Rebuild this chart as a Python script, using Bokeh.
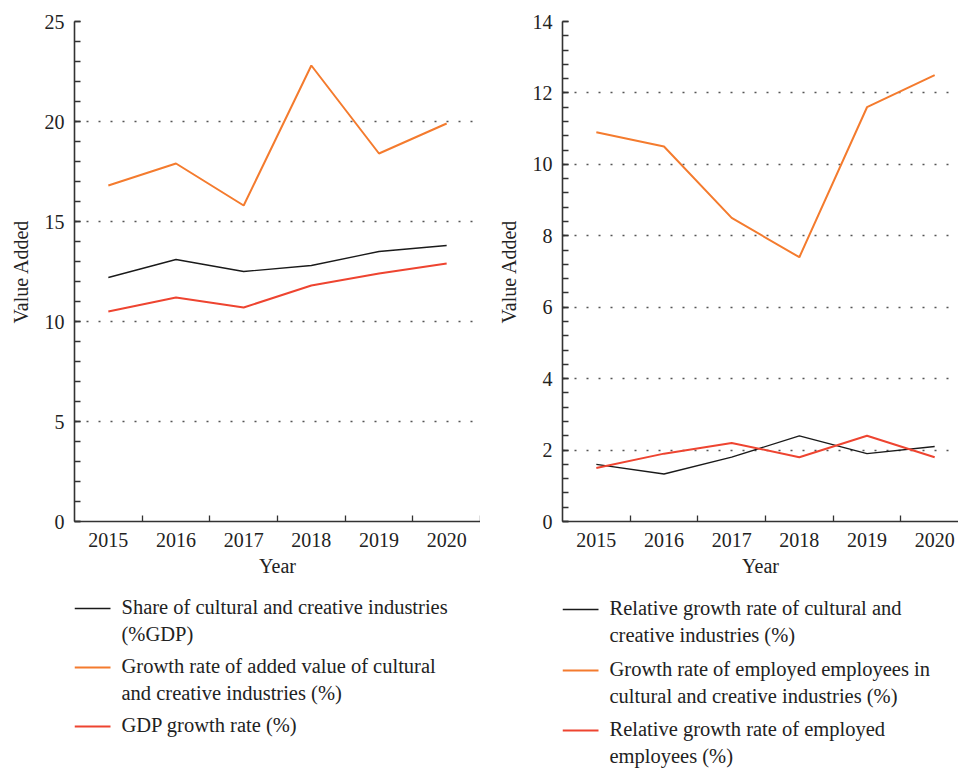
from bokeh.plotting import figure
from bokeh.layouts import row, column
from bokeh.models import Range1d, FixedTicker, SingleIntervalTicker
from bokeh.core.properties import value
from bokeh.embed import file_html
from bokeh.resources import INLINE

# ---------------- data ----------------
years = [2015, 2016, 2017, 2018, 2019, 2020]

left_share = [12.2, 13.1, 12.5, 12.8, 13.5, 13.8]
left_added_growth = [16.8, 17.9, 15.8, 22.8, 18.4, 19.9]
left_gdp_growth = [10.5, 11.2, 10.7, 11.8, 12.4, 12.9]

right_rel_growth = [1.6, 1.33, 1.8, 2.4, 1.9, 2.1]
right_emp_growth = [10.9, 10.5, 8.5, 7.4, 11.6, 12.5]
right_rel_emp_growth = [1.5, 1.9, 2.2, 1.8, 2.4, 1.8]

left_labels = [
    "Share of cultural and creative industries\n(%GDP)",
    "Growth rate of added value of cultural\nand creative industries (%)",
    "GDP growth rate (%)",
]
right_labels = [
    "Relative growth rate of cultural and\ncreative industries (%)",
    "Growth rate of employed employees in\ncultural and creative industries (%)",
    "Relative growth rate of employed\nemployees (%)",
]

BLACK = "#1a1a1a"
ORANGE = "#F47B2E"
RED = "#EE4430"
FONT = "Liberation Serif"
TXT = "#222222"
AX = "#333333"

PANEL_H = 591
LEG_H = 178


def make_panel(ymax, ymajor, xend, width, border_left, series):
    p = figure(width=width, height=PANEL_H, output_backend="svg", toolbar_location=None,
               x_range=Range1d(2014.5, xend), y_range=Range1d(0, ymax),
               min_border_left=border_left, min_border_right=0,
               min_border_top=21, min_border_bottom=70)
    p.outline_line_color = None
    p.background_fill_color = None
    p.border_fill_color = None
    p.xgrid.grid_line_color = None
    p.ygrid.grid_line_color = "#555555"
    p.ygrid.grid_line_dash = "2 10"
    p.ygrid.grid_line_width = 1.3
    p.ygrid.grid_line_dash_offset = -12

    xa = p.xaxis[0]
    xa.ticker = FixedTicker(ticks=years, minor_ticks=[y + 0.5 for y in years])
    xa.major_tick_in = 0
    xa.major_tick_out = 0
    xa.minor_tick_in = 6
    xa.minor_tick_out = 0
    xa.axis_label = "Year"
    xa.major_label_standoff = 11
    xa.axis_label_standoff = 5

    ya = p.yaxis[0]
    ya.ticker = SingleIntervalTicker(interval=ymajor, num_minor_ticks=5)
    ya.major_tick_in = 6
    ya.major_tick_out = 0
    ya.minor_tick_in = 6
    ya.minor_tick_out = 0
    ya.axis_label = "Value Added"
    ya.major_label_standoff = 10
    ya.axis_label_standoff = 10

    for ax in (xa, ya):
        ax.axis_line_color = AX
        ax.axis_line_width = 1.6
        ax.major_tick_line_color = AX
        ax.major_tick_line_width = 1.3
        ax.minor_tick_line_color = AX
        ax.minor_tick_line_width = 1.3
        ax.major_label_text_font = FONT
        ax.major_label_text_font_size = "20px"
        ax.major_label_text_color = TXT
        ax.axis_label_text_font = FONT
        ax.axis_label_text_font_size = "20px"
        ax.axis_label_text_font_style = "normal"
        ax.axis_label_text_color = TXT

    for vals, color, lw in series:
        p.line(years, vals, line_color=color, line_width=lw)
    return p


def make_legend(width, border_left, x0, labels, colors, widths, ys):
    # frame aligned with the panel above: x coordinates are canvas pixels
    lg = figure(width=width, height=LEG_H, output_backend="svg", toolbar_location=None,
                x_range=Range1d(border_left, width), y_range=Range1d(LEG_H, 0),
                x_axis_type=None, y_axis_type=None,
                min_border_left=border_left, min_border_right=0,
                min_border_top=0, min_border_bottom=0)
    lg.outline_line_color = None
    lg.grid.grid_line_color = None
    lg.background_fill_color = None
    lg.border_fill_color = None
    for lab, col, lw, y in zip(labels, colors, widths, ys):
        lg.line([x0, x0 + 36], [y, y], line_color=col, line_width=lw)
        lg.text([x0 + 47], [y - 13], text=[lab], text_font=value(FONT),
                text_font_size="20.5px", text_color=TXT, text_baseline="top",
                text_align="left", text_line_height=1.25)
    return lg


p1 = make_panel(25, 5, 2020.5, 480, 74,
                [(left_share, BLACK, 1.3), (left_added_growth, ORANGE, 2), (left_gdp_growth, RED, 2)])
p2 = make_panel(14, 2, 2020.352, 478, 82,
                [(right_rel_growth, BLACK, 1.3), (right_emp_growth, ORANGE, 2), (right_rel_emp_growth, RED, 2)])

leg1 = make_legend(480, 74, 74, left_labels, [BLACK, ORANGE, RED], [1.3, 2, 2], [17, 76, 135])
leg2 = make_legend(478, 82, 82, right_labels, [BLACK, ORANGE, RED], [1.3, 2, 2], [18, 79, 139])

layout = row(column(p1, leg1), column(p2, leg2))
open("out.html", "w").write(file_html(layout, INLINE))
